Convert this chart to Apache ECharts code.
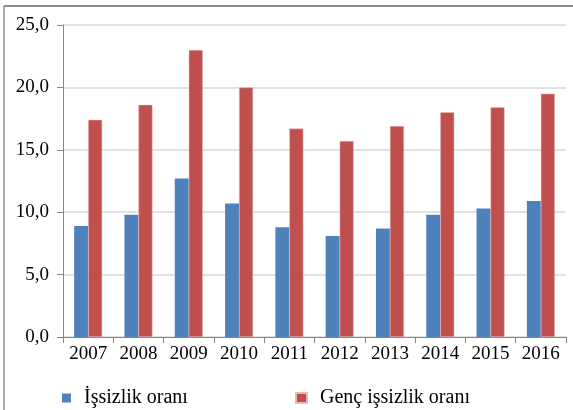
<!DOCTYPE html>
<html>
<head>
<meta charset="utf-8">
<script src="https://cdn.jsdelivr.net/npm/echarts@6/dist/echarts.min.js"></script>
<style>
  html, body { margin: 0; padding: 0; background: #fff; }
  #mychart { width: 573px; height: 410px; }
</style>
</head>
<body>
<div id="mychart"></div>
<script>
// data
const years = ['2007', '2008', '2009', '2010', '2011', '2012', '2013', '2014', '2015', '2016']
const issizlik = [8.9, 9.8, 12.7, 10.7, 8.8, 8.1, 8.7, 9.8, 10.3, 10.9]
const gencIssizlik = [17.4, 18.6, 23.0, 20.0, 16.7, 15.7, 16.9, 18.0, 18.4, 19.5]
const yTicks = [0, 5, 10, 15, 20, 25]

const font = 'Liberation Serif'
const axisGray = '#868686'

let myChart = echarts.init(document.getElementById('mychart'))

myChart.setOption({
    animation: false,
    textStyle: { fontFamily: font },
    grid: { left: 63, right: 7, top: 25, bottom: 73 },
    legend: [
        {
            data: ['İşsizlik oranı'],
            left: 57, top: 383,
            itemWidth: 9, itemHeight: 9, icon: 'rect',
            textStyle: { fontFamily: font, fontSize: 20, color: '#000', padding: [0, 0, 0, 8] }
        },
        {
            data: ['Genç işsizlik oranı'],
            left: 290, top: 383,
            itemWidth: 11, itemHeight: 10, icon: 'rect',
            textStyle: { fontFamily: font, fontSize: 20, color: '#000', padding: [0, 0, 0, 8] }
        }
    ],
    xAxis: {
        type: 'category',
        data: years,
        axisLine: { lineStyle: { color: axisGray, width: 1 } },
        axisTick: { show: true, length: 6, alignWithLabel: false, lineStyle: { color: axisGray } },
        axisLabel: { color: '#000', fontSize: 19, fontFamily: font, margin: 8, interval: 0 }
    },
    yAxis: {
        type: 'value',
        min: yTicks[0],
        max: yTicks[yTicks.length - 1],
        interval: 5,
        axisLine: { show: true, lineStyle: { color: axisGray, width: 1 } },
        axisTick: { show: true, length: 6, lineStyle: { color: axisGray } },
        splitLine: { lineStyle: { color: '#d9d9d9', width: 1.5 } },
        axisLabel: {
            color: '#000', fontSize: 19, fontFamily: font, margin: 14,
            formatter: v => v.toFixed(1).replace('.', ',')
        }
    },
    series: [
        {
            name: 'İşsizlik oranı',
            type: 'bar',
            data: issizlik,
            barWidth: 14,
            barGap: '0%',
            itemStyle: { color: '#4f81bd' }
        },
        {
            name: 'Genç işsizlik oranı',
            type: 'bar',
            data: gencIssizlik,
            barWidth: 14,
            barGap: '0%',
            itemStyle: { color: '#c0504d', borderColor: '#e6b9b8', borderWidth: 0.5 }
        }
    ],
    graphic: [
        { type: 'line', shape: { x1: 4, y1: 6, x2: 573, y2: 6 }, style: { stroke: '#8c8c8c', lineWidth: 2 } },
        { type: 'line', shape: { x1: 4, y1: 6, x2: 4, y2: 410 }, style: { stroke: '#8c8c8c', lineWidth: 1.5 } }
    ]
})
</script>
</body>
</html>
